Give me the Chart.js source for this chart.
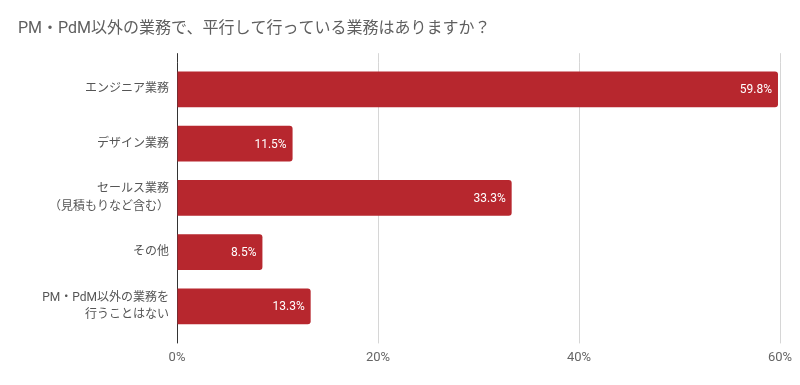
<!DOCTYPE html>
<html>
<head>
<meta charset="utf-8">
<script src="https://cdn.jsdelivr.net/npm/chart.js@4.4.0/dist/chart.umd.min.js"></script>
<style>
  html, body { margin: 0; padding: 0; background: #fff; }
  #wrap { width: 800px; height: 385px; }
</style>
</head>
<body>
<div id="wrap"><canvas id="chart"></canvas></div>
<script>
const categories = [
  "エンジニア業務",
  "デザイン業務",
  ["セールス業務", "（見積もりなど含む）"],
  "その他",
  ["PM・PdM以外の業務を", "行うことはない"]
];
const values = [59.8, 11.5, 33.3, 8.5, 13.3];
const xTicks = [0, 20, 40, 60];

const FONT = "Roboto, 'Noto Sans CJK JP', sans-serif";
const BAR = "#b7272e";

// 0%の線だけ濃く
const gridColor = (ctx) => (ctx.tick && ctx.tick.value === 0 ? "#333" : "#d6d6d6");

// バーの先端に白で値を描く
const barLabels = {
  id: "barLabels",
  afterDatasetsDraw(chart) {
    const c = chart.ctx;
    const meta = chart.getDatasetMeta(0);
    c.save();
    c.font = "12px " + FONT;
    c.fillStyle = "#fff";
    c.textAlign = "right";
    c.textBaseline = "middle";
    meta.data.forEach((bar, i) => {
      c.fillText(values[i].toFixed(1) + "%", bar.x - 6, bar.y + 1);
    });
    c.restore();
  }
};

new Chart(document.getElementById("chart"), {
  type: "bar",
  data: {
    labels: categories,
    datasets: [{
      data: values,
      backgroundColor: BAR,
      borderRadius: 3,
      borderSkipped: "start",
      barPercentage: 0.66,
      categoryPercentage: 1
    }]
  },
  options: {
    indexAxis: "y",
    responsive: true,
    maintainAspectRatio: false,
    animation: false,
    layout: { padding: { left: 18, right: 20, top: 0, bottom: 12 } },
    plugins: {
      legend: { display: false },
      tooltip: { enabled: false },
      title: {
        display: true,
        text: "PM・PdM以外の業務で、平行して行っている業務はありますか？",
        align: "start",
        color: "#5f5f5f",
        font: { family: FONT, size: 16, weight: "normal", lineHeight: 1.2 },
        padding: { top: 19, bottom: 15 }
      }
    },
    scales: {
      x: {
        type: "linear",
        position: "bottom",
        min: 0,
        max: 60,
        afterBuildTicks: (s) => { s.ticks = xTicks.map((v) => ({ value: v })); },
        border: { display: false },
        grid: { color: gridColor, tickColor: gridColor, tickLength: 10 },
        ticks: {
          color: "#666",
          font: { family: FONT, size: 13 },
          padding: 7,
          callback: (v) => v + "%"
        }
      },
      xTop: {
        type: "linear",
        position: "top",
        min: 0,
        max: 60,
        afterBuildTicks: (s) => { s.ticks = xTicks.map((v) => ({ value: v })); },
        border: { display: false },
        grid: { drawOnChartArea: false, color: gridColor, tickColor: gridColor, tickLength: 9 },
        ticks: { display: false }
      },
      y: {
        afterFit: (s) => { s.width = 159; },
        border: { display: false },
        grid: { display: false, drawTicks: false },
        ticks: {
          color: "#555",
          font: { family: FONT, size: 12, lineHeight: 1.45 },
          padding: 8
        }
      }
    }
  },
  plugins: [barLabels]
});
</script>
</body>
</html>
